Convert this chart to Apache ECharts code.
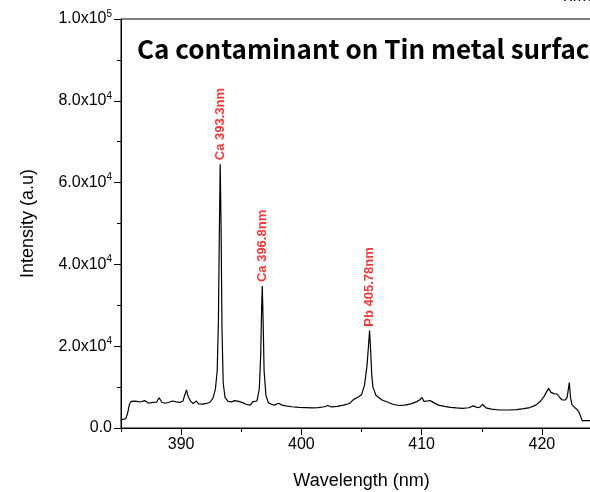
<!DOCTYPE html>
<html>
<head>
<meta charset="utf-8">
<script src="https://cdn.jsdelivr.net/npm/echarts@6/dist/echarts.min.js"></script>
<style>
  html, body { margin: 0; padding: 0; background: #fff; }
  #chart { width: 590px; height: 492px; }
</style>
</head>
<body>
<div id="chart"></div>
<script>
// spectrum (nm, a.u.)
const wavelength = [384.97, 385.4, 385.55, 385.7, 385.85, 386.2, 386.6, 386.97, 387.3, 387.6, 387.95, 388.17, 388.4, 388.7, 389.0, 389.28, 389.6, 389.9, 390.15, 390.3, 390.44, 390.6, 390.8, 391.0, 391.15, 391.28, 391.45, 391.8, 392.1, 392.4, 392.65, 392.85, 393.0, 393.1, 393.18, 393.25, 393.32, 393.4, 393.5, 393.65, 393.9, 394.2, 394.45, 394.6, 394.8, 395.1, 395.4, 395.75, 395.95, 396.1, 396.3, 396.5, 396.62, 396.7, 396.75, 396.82, 396.9, 397.05, 397.25, 397.5, 397.75, 398.1, 398.4, 398.7, 399.2, 399.8, 400.4, 400.9, 401.4, 401.9, 402.2, 402.5, 403.0, 403.5, 404.0, 404.35, 404.7, 405.0, 405.25, 405.45, 405.58, 405.67, 405.76, 405.85, 405.95, 406.2, 406.7, 407.2, 407.6, 408.1, 408.6, 409.1, 409.6, 409.85, 410.03, 410.2, 410.45, 410.7, 411.0, 411.4, 411.9, 412.4, 412.9, 413.4, 413.9, 414.3, 414.6, 414.85, 415.06, 415.35, 415.8, 416.5, 417.2, 417.9, 418.5, 419.0, 419.5, 419.9, 420.2, 420.4, 420.56, 420.75, 421.0, 421.3, 421.5, 421.7, 421.95, 422.1, 422.2, 422.28, 422.38, 422.5, 422.7, 422.9, 423.1, 423.25, 423.36, 423.6, 424.0, 424.5, 425.0];
const intensity = [1960, 2300, 3600, 5800, 6500, 6550, 6350, 6700, 6050, 6250, 6300, 7400, 6300, 6050, 6300, 6600, 6400, 6250, 6600, 8000, 9300, 7600, 6500, 6000, 6200, 6600, 5900, 5850, 6000, 6300, 7300, 9500, 14000, 26000, 48000, 64500, 50000, 24000, 11000, 7500, 6500, 6400, 6700, 7000, 6500, 6200, 5800, 5600, 6400, 6000, 6600, 9500, 18000, 30000, 34700, 26000, 14000, 8000, 6200, 5800, 5600, 6050, 5600, 5400, 5200, 5050, 5000, 4900, 5000, 5200, 5500, 5150, 5300, 5600, 6000, 7000, 7500, 8100, 10500, 15000, 20000, 23800, 19000, 13000, 10000, 8000, 6850, 6300, 5800, 5500, 5600, 5900, 6450, 6900, 7450, 6500, 6600, 6700, 6200, 5600, 5300, 5050, 4900, 4800, 4950, 5400, 5000, 5100, 5800, 4900, 4600, 4400, 4400, 4500, 4750, 5000, 5600, 6600, 7800, 8900, 9700, 8700, 8400, 8250, 7400, 6850, 6900, 7500, 9500, 11100, 7500, 5700, 5100, 4600, 3800, 2600, 1800, 1780, 1790, 1800, 1800];

// x tick positions
const xMajor = [390, 400, 410, 420];
const xMinor = [385, 395, 405, 415, 425];

// peak annotations
const peakNames = ['Ca 393.3nm', 'Ca 396.8nm', 'Pb 405.78nm'];
const peakX = [393.25, 396.75, 405.67];
const peakY = [64500, 34700, 23800];

const chart = echarts.init(document.getElementById('chart'));

const fmtY = v => {
  if (v === 0) return '0.0';
  const e = Math.floor(Math.log10(v));
  return '{m|' + (v / Math.pow(10, e)).toFixed(1) + 'x10}{s|' + e + '}';
};

chart.setOption({
  animation: false,
  grid: {
    left: 121, top: 19, bottom: 64, width: 481,
    outerBoundsMode: 'none', containLabel: false,
    show: true, borderColor: '#000', borderWidth: 1
  },
  graphic: [
    {
      type: 'text', left: 137, top: 36,
      style: { text: 'Ca contaminant on Tin metal surface', fontFamily: 'Noto Sans CJK KR', fontWeight: 'bold', fontSize: 26, fill: '#000' }
    },
    {
      type: 'text', left: 560, top: -11,
      style: { text: 'Time', fontFamily: 'Liberation Sans', fontSize: 16, fill: '#000' }
    }
  ],
  xAxis: [
    {
      type: 'value', min: 385, max: 425,
      name: 'Wavelength (nm)', nameLocation: 'middle', nameGap: 44,
      nameTextStyle: { fontFamily: 'Liberation Sans', fontSize: 18, color: '#000' },
      axisLine: { lineStyle: { color: '#000', width: 1 } },
      axisTick: { length: 7, customValues: xMajor, lineStyle: { color: '#000' } },
      axisLabel: {
        fontFamily: 'Liberation Sans', fontSize: 16, color: '#000', margin: 9,
        customValues: xMajor
      },
      splitLine: { show: false }
    },
    {
      type: 'value', min: 385, max: 425, position: 'bottom',
      axisLine: { show: false },
      axisTick: { length: 4, customValues: xMinor, lineStyle: { color: '#000' } },
      axisLabel: { show: false },
      splitLine: { show: false }
    }
  ],
  yAxis: {
    type: 'value', min: 0, max: 100000, interval: 20000,
    name: 'Intensity (a.u)', nameLocation: 'middle', nameGap: 84,
    nameTextStyle: { fontFamily: 'Liberation Sans', fontSize: 18, color: '#000' },
    axisLine: { show: true, lineStyle: { color: '#000', width: 1 } },
    axisTick: { show: true, length: 7, lineStyle: { color: '#000' } },
    minorTick: { show: true, splitNumber: 2, length: 4, lineStyle: { color: '#000' } },
    axisLabel: {
      fontFamily: 'Liberation Sans', fontSize: 16, color: '#000', margin: 9,
      formatter: fmtY,
      rich: {
        m: { fontFamily: 'Liberation Sans', fontSize: 16, color: '#000' },
        s: { fontFamily: 'Liberation Sans', fontSize: 10, color: '#000', verticalAlign: 'top', padding: [0, 0, 10, 0] }
      }
    },
    splitLine: { show: false }
  },
  series: [
    {
      type: 'line',
      data: wavelength.map((x, i) => [x, intensity[i]]),
      symbol: 'none',
      lineStyle: { color: '#000', width: 1.2 },
      z: 3
    },
    {
      type: 'scatter',
      data: peakX.map((x, i) => ({ value: [x, peakY[i]], name: peakNames[i] })),
      symbolSize: 0,
      silent: true,
      label: {
        show: true, position: 'top', distance: 4, rotate: 90,
        align: 'left', verticalAlign: 'middle',
        formatter: p => p.name,
        fontFamily: 'Liberation Sans', fontWeight: 'bold', fontSize: 13, color: '#ff0000'
      }
    }
  ]
});
</script>
</body>
</html>
